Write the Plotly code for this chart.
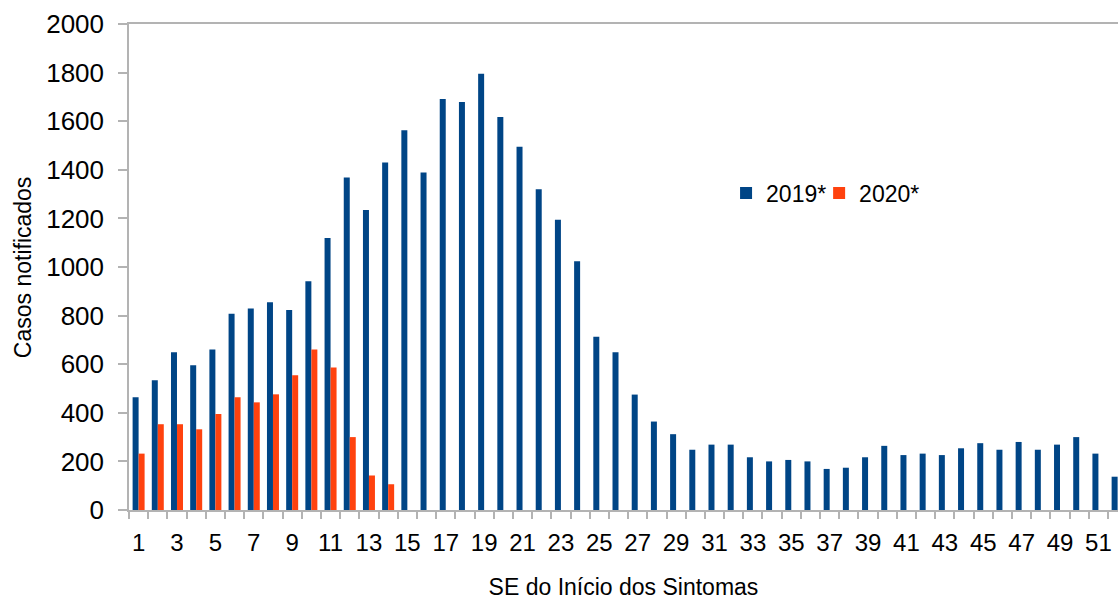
import plotly.graph_objects as go

weeks = list(range(1, 53))
cases_2019 = [464, 534, 649, 596, 660, 808, 829, 855, 823, 941,
              1119, 1368, 1235, 1430, 1563, 1389, 1691, 1679, 1795, 1617,
              1495, 1320, 1194, 1024, 713, 649, 475, 364, 312, 248,
              269, 269, 217, 200, 206, 200, 169, 174, 217, 264,
              226, 232, 226, 254, 275, 248, 280, 248, 269, 300,
              232, 137]
cases_2020 = [232, 353, 353, 332, 395, 464, 443, 476, 555, 660,
              586, 300, 142, 106]
weeks_2020 = weeks[:len(cases_2020)]

tick_vals = list(range(1, 52, 2))
tick_text = [str(v) for v in tick_vals]
y_ticks = list(range(0, 2001, 200))

BLUE = "#004586"
ORANGE = "#ff420e"
GRAY = "#b3b3b3"
FONT = "Liberation Sans, Arial, sans-serif"

fig = go.Figure()
fig.add_trace(go.Bar(x=weeks, y=cases_2019, name="2019*", legend="legend",
                     marker=dict(color=BLUE, line=dict(width=0))))
fig.add_trace(go.Bar(x=weeks_2020, y=cases_2020, name="2020*", legend="legend2",
                     marker=dict(color=ORANGE, line=dict(width=0))))

legend_style = dict(orientation="h", y=0.652, xanchor="left", yanchor="middle",
                    font=dict(size=23, family=FONT, color="#000000"),
                    bgcolor="rgba(0,0,0,0)", itemwidth=30)

fig.update_layout(
    width=1118, height=600,
    margin=dict(l=129, r=0, t=24, b=90, autoexpand=False),
    paper_bgcolor="white", plot_bgcolor="white",
    barmode="group", bargap=0.375, bargroupgap=0,
    font=dict(family=FONT, color="#000000"),
    showlegend=True,
    legend=dict(x=0.6037, **legend_style),
    legend2=dict(x=0.6978, **legend_style),
    annotations=[dict(text="Casos notificados", textangle=-90,
                      xref="paper", yref="paper", x=-0.107, y=0.5,
                      xanchor="center", yanchor="middle", showarrow=False,
                      font=dict(size=23, family=FONT, color="#000000"))],
)

fig.update_xaxes(
    type="linear", range=[0.5, 52.02], automargin=False,
    tickmode="array", tickvals=tick_vals, ticktext=tick_text,
    ticks="", tickfont=dict(size=24, family=FONT, color="#000000"),
    ticklabelstandoff=10,
    showline=True, linecolor=GRAY, linewidth=1.5, mirror=True,
    showgrid=False, zeroline=False,
    minor=dict(tickmode="linear", tick0=0.5, dtick=1, ticks="outside",
               ticklen=7, tickcolor=GRAY, tickwidth=1.5, showgrid=False),
    title=dict(text="SE do Início dos Sintomas",
               font=dict(size=23, family=FONT, color="#000000"), standoff=39),
)

fig.update_yaxes(
    range=[0, 2000], tickmode="array", tickvals=y_ticks, automargin=False,
    ticks="outside", ticklen=9, tickcolor=GRAY, tickwidth=1.5,
    tickfont=dict(size=26, family=FONT, color="#000000"),
    ticklabelstandoff=9,
    showline=True, linecolor=GRAY, linewidth=1.5,
    showgrid=False, zeroline=False,
)

fig.write_html(
    "out.html",
    config=dict(displayModeBar=False),
    post_script="document.body.style.margin='0';document.body.style.overflow='hidden';",
)
